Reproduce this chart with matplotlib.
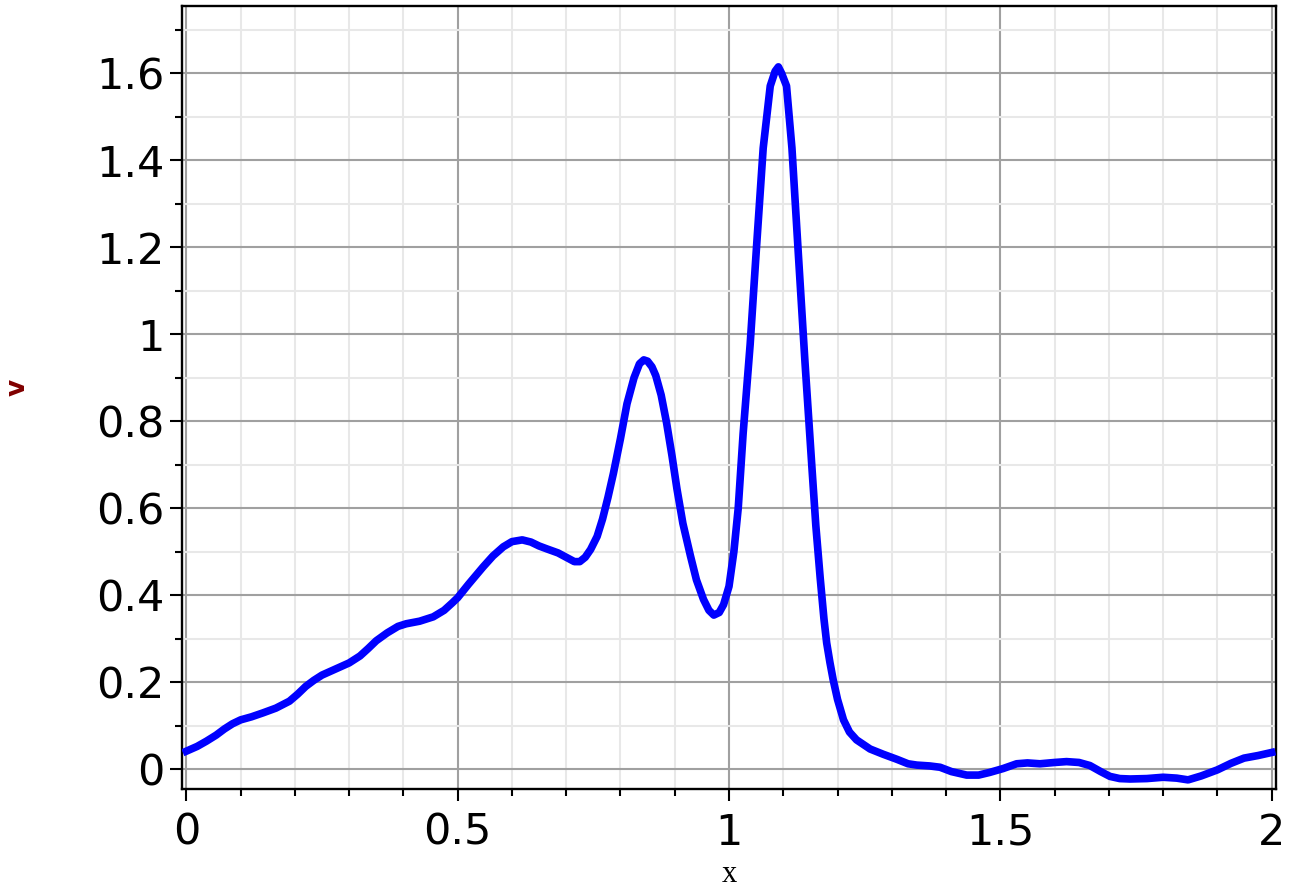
import numpy as np
import matplotlib
matplotlib.use('agg')
from matplotlib import pyplot as plt
from matplotlib.ticker import MultipleLocator, FormatStrFormatter

# values
xs = [0.0, 0.02, 0.037, 0.055, 0.07, 0.085, 0.1, 0.12, 0.141, 0.165,
      0.19, 0.205, 0.22, 0.235, 0.25, 0.275, 0.3, 0.32, 0.335, 0.35,
      0.37, 0.39, 0.405, 0.43, 0.455, 0.475, 0.49, 0.5, 0.52, 0.547,
      0.565, 0.584, 0.6, 0.619, 0.635, 0.65, 0.665, 0.685, 0.7, 0.715,
      0.725, 0.735, 0.745, 0.757, 0.767, 0.777, 0.787, 0.8, 0.812, 0.825,
      0.835, 0.843, 0.85, 0.858, 0.865, 0.875, 0.885, 0.895, 0.904, 0.915,
      0.929, 0.94, 0.953, 0.963, 0.972, 0.982, 0.99, 1.0, 1.009, 1.017,
      1.026, 1.039, 1.051, 1.063, 1.076, 1.085, 1.091, 1.097, 1.106, 1.116,
      1.128, 1.14, 1.153, 1.16, 1.168, 1.175, 1.18, 1.186, 1.192, 1.2,
      1.211, 1.222, 1.235, 1.26, 1.284, 1.31, 1.33, 1.346, 1.37, 1.389,
      1.41, 1.438, 1.46, 1.48, 1.505, 1.53, 1.55, 1.573, 1.6, 1.622,
      1.645, 1.665, 1.685, 1.702, 1.72, 1.739, 1.77, 1.8, 1.825, 1.846,
      1.87, 1.9, 1.925, 1.949, 1.975, 2.0]
vs = [0.041, 0.052, 0.064, 0.078, 0.092, 0.104, 0.113, 0.12, 0.129, 0.14,
      0.156, 0.172, 0.19, 0.204, 0.216, 0.23, 0.244, 0.26, 0.277, 0.295,
      0.313, 0.328, 0.334, 0.34, 0.35, 0.365, 0.382, 0.394, 0.425, 0.465,
      0.49, 0.511, 0.523, 0.527, 0.522, 0.513, 0.506, 0.497, 0.487, 0.477,
      0.477, 0.487, 0.505, 0.535, 0.575, 0.625, 0.68, 0.76, 0.84, 0.9,
      0.932, 0.941, 0.938, 0.925, 0.905, 0.86, 0.796, 0.72, 0.645, 0.565,
      0.49, 0.435, 0.39, 0.365, 0.354, 0.36, 0.378, 0.42, 0.5, 0.6,
      0.771, 0.977, 1.206, 1.428, 1.571, 1.605, 1.615, 1.6, 1.571, 1.428,
      1.18, 0.936, 0.69, 0.56, 0.44, 0.345, 0.29, 0.245, 0.205, 0.16,
      0.113, 0.085, 0.067, 0.046, 0.034, 0.022, 0.012, 0.009, 0.007, 0.004,
      -0.006, -0.014, -0.014, -0.008, 0.001, 0.012, 0.014, 0.012, 0.015, 0.017,
      0.015, 0.008, -0.006, -0.017, -0.022, -0.023, -0.022, -0.019, -0.021, -0.025,
      -0.016, -0.002, 0.013, 0.025, 0.031, 0.038]

fig = plt.figure(figsize=(12.91, 8.92), dpi=100)
ax = fig.add_axes([182/1291, 1 - 789/892, (1276-182)/1291, (789-6)/892])

ax.plot(xs, vs, color='#0000ff', lw=5.5, solid_joinstyle='round', zorder=3)

ax.set_xlim(-0.008, 2.008)
ax.set_ylim(-0.046, 1.755)

ax.xaxis.set_major_locator(MultipleLocator(0.5))
ax.xaxis.set_minor_locator(MultipleLocator(0.1))
ax.yaxis.set_major_locator(MultipleLocator(0.2))
ax.yaxis.set_minor_locator(MultipleLocator(0.1))
ax.xaxis.set_major_formatter(FormatStrFormatter('%g'))
ax.yaxis.set_major_formatter(FormatStrFormatter('%g'))

ax.grid(which='major', color='#a0a0a0', lw=1.5)
ax.grid(which='minor', color='#e8e8e8', lw=1.5)
ax.set_axisbelow(True)

ax.tick_params(which='major', direction='out', length=8.5, width=1.5,
               labelsize=31, colors='black')
ax.tick_params(axis='x', which='major', pad=8)
ax.tick_params(axis='y', which='major', pad=4)
ax.tick_params(which='minor', direction='out', length=5, width=1.5)
for s in ax.spines.values():
    s.set_linewidth(1.7)
    s.set_color('black')

fig.text(729/1291, 1 - 874/892, 'x', family='Liberation Serif', fontsize=22,
         ha='center', va='center')
fig.text(18/1291, 1 - 387/892, 'v', color='#800000', fontsize=19,
         fontweight='bold', rotation=90, ha='center', va='center')

plt.savefig('out.png', dpi=100)
